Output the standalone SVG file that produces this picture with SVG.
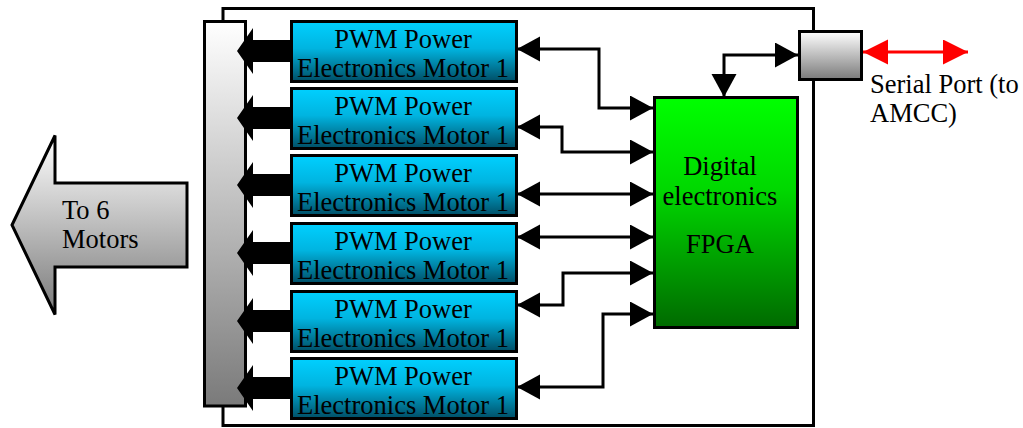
<svg xmlns="http://www.w3.org/2000/svg" width="1023" height="428" viewBox="0 0 1023 428">
<style>
  .t { font-family: 'Liberation Serif', 'Times New Roman', serif; font-size: 26.5px; fill: #000; }
  .pwm { fill: url(#gPwm); stroke: #000; stroke-width: 3; }
  .conn { fill: none; stroke: #000; stroke-width: 3; }
  .thick { fill: #000; }
</style>
<defs>
  <linearGradient id="gPwm" x1="0" y1="0" x2="0" y2="1">
    <stop offset="0" stop-color="#00d0ff"/>
    <stop offset="0.45" stop-color="#00b4e0"/>
    <stop offset="1" stop-color="#004e66"/>
  </linearGradient>
  <linearGradient id="gGreen" x1="0" y1="0" x2="0" y2="1">
    <stop offset="0" stop-color="#00ff00"/>
    <stop offset="0.4" stop-color="#00d800"/>
    <stop offset="1" stop-color="#006a00"/>
  </linearGradient>
  <linearGradient id="gGray" x1="0" y1="0" x2="0" y2="1">
    <stop offset="0" stop-color="#ffffff"/>
    <stop offset="1" stop-color="#7a7a7a"/>
  </linearGradient>
  <marker id="ah" markerUnits="userSpaceOnUse" markerWidth="24" markerHeight="26" refX="23" refY="12.5" orient="auto-start-reverse">
    <path d="M0,0 L23,12.5 L0,25 z" fill="#000"/>
  </marker>
  <marker id="ahr" markerUnits="userSpaceOnUse" markerWidth="26" markerHeight="26" refX="25" refY="12.5" orient="auto-start-reverse">
    <path d="M0,0 L25,12.5 L0,25 z" fill="#ff0000"/>
  </marker>
</defs>

<g id="frame">
  <rect x="223" y="8.5" width="590.5" height="417" fill="#fff" stroke="#000" stroke-width="3"/>
</g>

<g id="bus-bar">
  <rect x="204.5" y="21.5" width="41" height="384.5" fill="url(#gGray)" stroke="#000" stroke-width="3"/>
</g>

<g id="to-motors">
  <path d="M12,225 L55,135.5 L55,183 L187,183 L187,267 L55,267 L55,314.5 Z" fill="url(#gGray)" stroke="#000" stroke-width="3" stroke-linejoin="miter"/>
  <text class="t" x="62" y="219">To 6</text>
  <text class="t" x="62" y="248">Motors</text>
</g>

<g id="connectors">
  <polygon class="thick" points="290,40 253,40 253,28 237,51 253,74 253,62 290,62"/>
  <polygon class="thick" points="290,107 253,107 253,95 237,118 253,141 253,129 290,129"/>
  <polygon class="thick" points="290,174 253,174 253,162 237,185 253,208 253,196 290,196"/>
  <polygon class="thick" points="290,242 253,242 253,230 237,253 253,276 253,264 290,264"/>
  <polygon class="thick" points="290,310 253,310 253,298 237,321 253,344 253,332 290,332"/>
  <polygon class="thick" points="290,377 253,377 253,365 237,388 253,411 253,399 290,399"/>
  <path class="conn" d="M517,49 L599,49 L599,108 L653,108" marker-start="url(#ah)" marker-end="url(#ah)"/>
  <path class="conn" d="M517,127 L562,127 L562,152 L653,152" marker-start="url(#ah)" marker-end="url(#ah)"/>
  <path class="conn" d="M517,194 L653,194" marker-start="url(#ah)" marker-end="url(#ah)"/>
  <path class="conn" d="M517,237 L653,237" marker-start="url(#ah)" marker-end="url(#ah)"/>
  <path class="conn" d="M517,305 L563,305 L563,273 L653,273" marker-start="url(#ah)" marker-end="url(#ah)"/>
  <path class="conn" d="M517,387 L603,387 L603,314 L653,314" marker-start="url(#ah)" marker-end="url(#ah)"/>
  <path class="conn" d="M724,97 L724,55 L798,55" marker-start="url(#ah)" marker-end="url(#ah)"/>
  <path d="M863,52 L968,52" fill="none" stroke="#ff0000" stroke-width="3" marker-start="url(#ahr)" marker-end="url(#ahr)"/>
</g>

<g id="pwm1">
  <rect class="pwm" x="291.5" y="21.5" width="225" height="60"/>
  <text class="t" x="403" y="48" text-anchor="middle">PWM Power</text>
  <text class="t" x="403" y="77" text-anchor="middle">Electronics Motor 1</text>
</g>
<g id="pwm2">
  <rect class="pwm" x="291.5" y="88.5" width="225" height="60"/>
  <text class="t" x="403" y="115" text-anchor="middle">PWM Power</text>
  <text class="t" x="403" y="144" text-anchor="middle">Electronics Motor 1</text>
</g>
<g id="pwm3">
  <rect class="pwm" x="291.5" y="155.5" width="225" height="60"/>
  <text class="t" x="403" y="182" text-anchor="middle">PWM Power</text>
  <text class="t" x="403" y="211" text-anchor="middle">Electronics Motor 1</text>
</g>
<g id="pwm4">
  <rect class="pwm" x="291.5" y="223.5" width="225" height="60"/>
  <text class="t" x="403" y="250" text-anchor="middle">PWM Power</text>
  <text class="t" x="403" y="279" text-anchor="middle">Electronics Motor 1</text>
</g>
<g id="pwm5">
  <rect class="pwm" x="291.5" y="291.5" width="225" height="60"/>
  <text class="t" x="403" y="318" text-anchor="middle">PWM Power</text>
  <text class="t" x="403" y="347" text-anchor="middle">Electronics Motor 1</text>
</g>
<g id="pwm6">
  <rect class="pwm" x="291.5" y="358.5" width="225" height="60"/>
  <text class="t" x="403" y="385" text-anchor="middle">PWM Power</text>
  <text class="t" x="403" y="414" text-anchor="middle">Electronics Motor 1</text>
</g>

<g id="fpga">
  <rect x="654.5" y="97.5" width="143" height="230" fill="url(#gGreen)" stroke="#000" stroke-width="3"/>
  <text class="t" x="720" y="175" text-anchor="middle">Digital</text>
  <text class="t" x="720" y="205" text-anchor="middle">electronics</text>
  <text class="t" x="720" y="253" text-anchor="middle">FPGA</text>
</g>

<g id="serial-port">
  <rect x="799.5" y="31.5" width="62" height="48" fill="url(#gGray)" stroke="#000" stroke-width="3"/>
  <text class="t" x="870" y="93">Serial Port (to</text>
  <text class="t" x="870" y="122">AMCC)</text>
</g>
</svg>
